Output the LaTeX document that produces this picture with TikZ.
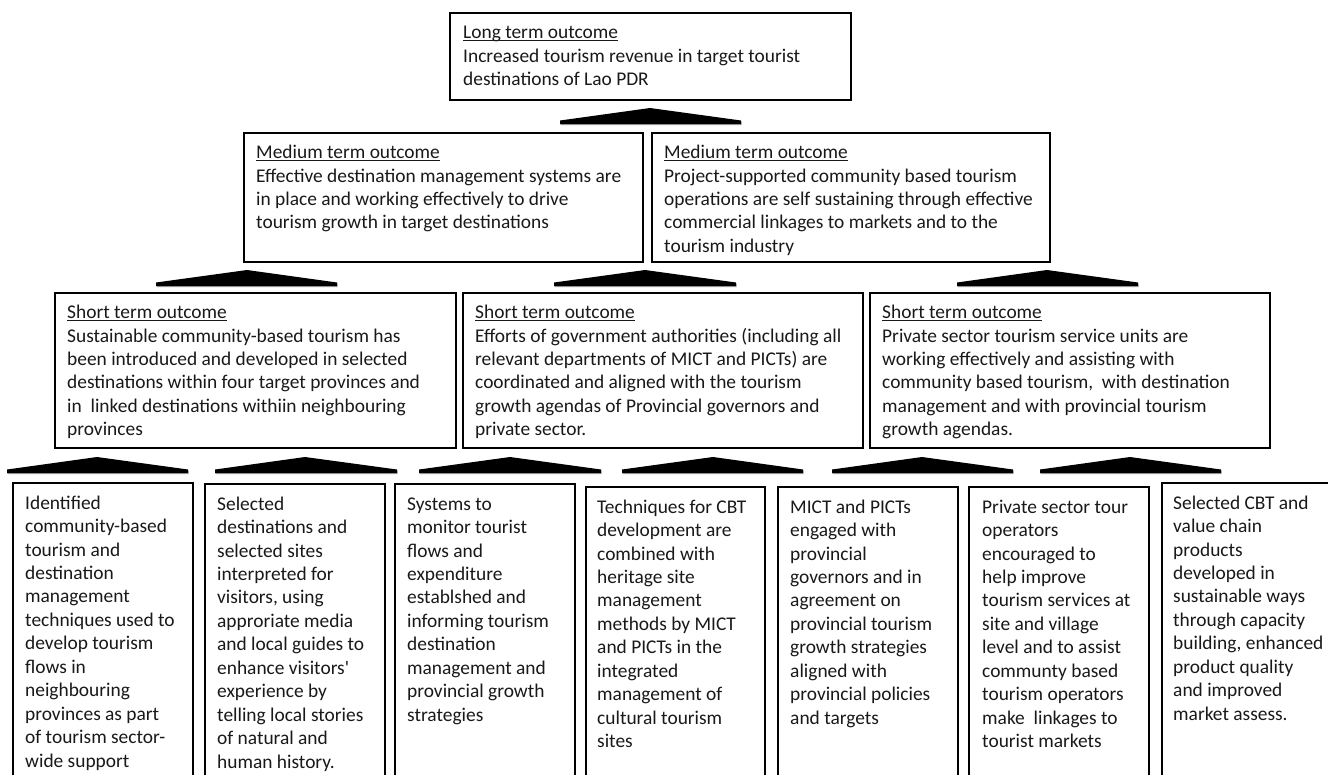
\documentclass[tikz,border=0pt]{standalone}
\usepackage{fontspec}
\setmainfont{Carlito}
\newfontfamily\plaincf{Carlito}
\newcommand\sq{{\plaincf\symbol{39}}}
\newcommand\hd[1]{\setbox0\hbox{#1}\rlap{\rule[-2.4pt]{\wd0}{1.3pt}}\box0}
\newcommand\tx[1]{\begin{tabular}[t]{@{}l@{}}#1\end{tabular}}
\newcommand\tri[5]{\fill[black!35] (#1+0.5,#5+1.2) -- (#1+0.5,#5-2.3) -- (#2,#4+1.2) -- (#3+0.5,#5-2.3) -- (#3+0.5,#5+1.2) -- cycle;
  \fill[black] (#1,#5) -- (#1,#5-3.5) -- (#2,#4) -- (#3,#5-3.5) -- (#3,#5) -- cycle;}
\tikzset{
  obox/.style={draw=black, line width=1.6pt, anchor=north west, inner sep=0pt},
  otext/.style={anchor=north west, inner sep=0pt, align=left, text=black!90, font=\fontsize{19.4}{23.45}\selectfont}
}
\begin{document}
\begin{tikzpicture}[x=1pt,y=-1pt]
\useasboundingbox (0,0) rectangle (1328,774);
\fill[white] (0,0) rectangle (1328,774);
\clip (0,0) rectangle (1328,774);

% boxes
\node[obox, minimum width=401, minimum height=87] (lt) at (449,12) {};
\node[obox, minimum width=399, minimum height=129] (ml) at (243,132) {};
\node[obox, minimum width=398, minimum height=129] (mr) at (651,132) {};
\node[obox, minimum width=401, minimum height=155] (sl) at (54,292) {};
\node[obox, minimum width=400, minimum height=155] (sm) at (462,292) {};
\node[obox, minimum width=400, minimum height=155] (sr) at (869,292) {};
\node[obox, minimum width=180, minimum height=330] (o1) at (12,482) {};
\node[obox, minimum width=180, minimum height=330] (o2) at (204,483) {};
\node[obox, minimum width=180, minimum height=330] (o3) at (394,483) {};
\node[obox, minimum width=179, minimum height=330] (o4) at (585,486) {};
\node[obox, minimum width=180, minimum height=330] (o5) at (777,486) {};
\node[obox, minimum width=180, minimum height=330] (o6) at (968,486) {};
\node[obox, minimum width=190, minimum height=330] (o7) at (1161,482) {};

% texts
\node[otext] (ltt) at ([shift={(14,10)}]lt.north west) {\tx{\hd{Long term outcome}\\Increased tourism revenue in target tourist\\destinations of Lao PDR}};
\node[otext] (mlt) at ([shift={(13,10)}]ml.north west) {\tx{\hd{Medium term outcome}\\Effective destination management systems are\\in place and working effectively to drive\\tourism growth in target destinations}};
\node[otext] (mrt) at ([shift={(13,10)}]mr.north west) {\tx{\hd{Medium term outcome}\\Project-supported community based tourism\\operations are self sustaining through effective\\commercial linkages to markets and to the\\tourism industry}};
\node[otext] (slt) at ([shift={(13,10)}]sl.north west) {\tx{\hd{Short term outcome}\\Sustainable community-based tourism has\\been introduced and developed in selected\\destinations within four target provinces and\\in\ \ linked destinations withiin neighbouring\\provinces}};
\node[otext] (smt) at ([shift={(13,10)}]sm.north west) {\tx{\hd{Short term outcome}\\Efforts of government authorities (including all\\relevant departments of MICT and PICTs) are\\coordinated and aligned with the tourism\\growth agendas of Provincial governors and\\private sector.}};
\node[otext] (srt) at ([shift={(13,10)}]sr.north west) {\tx{\hd{Short term outcome}\\Private sector tourism service units are\\working effectively and assisting with\\community based tourism,\ \ with destination\\management and with provincial tourism\\growth agendas.}};

\node[otext] (o1t) at ([shift={(13,10.5)}]o1.north west) {\tx{Identified\\community-based\\tourism and\\destination\\management\\techniques used to\\develop tourism\\flows in\\neighbouring\\provinces as part\\of tourism sector-\\wide support}};
\node[otext] (o2t) at ([shift={(13,10.5)}]o2.north west) {\tx{Selected\\destinations and\\selected sites\\interpreted for\\visitors, using\\approriate media\\and local guides to\\enhance visitors\sq\\experience by\\telling local stories\\of natural and\\human history.}};
\node[otext] (o3t) at ([shift={(13,10.5)}]o3.north west) {\tx{Systems to\\monitor tourist\\flows and\\expenditure\\establshed and\\informing tourism\\destination\\management and\\provincial growth\\strategies}};
\node[otext] (o4t) at ([shift={(12,10.5)}]o4.north west) {\tx{Techniques for CBT\\development are\\combined with\\heritage site\\management\\methods by MICT\\and PICTs in the\\integrated\\management of\\cultural tourism\\sites}};
\node[otext] (o5t) at ([shift={(13,10.5)}]o5.north west) {\tx{MICT and PICTs\\engaged with\\provincial\\governors and in\\agreement on\\provincial tourism\\growth strategies\\aligned with\\provincial policies\\and targets}};
\node[otext] (o6t) at ([shift={(14,10.5)}]o6.north west) {\tx{Private sector tour\\operators\\encouraged to\\help improve\\tourism services at\\site and village\\level and to assist\\communty based\\tourism operators\\make\ \ linkages to\\tourist markets}};
\node[otext] (o7t) at ([shift={(12,10.5)}]o7.north west) {\tx{Selected CBT and\\value chain\\products\\developed in\\sustainable ways\\through capacity\\building, enhanced\\product quality\\and improved\\market assess.}};

% triangles
\tri{560}{650}{741}{108}{124}
\tri{156}{247}{337}{270}{286}
\tri{554}{645}{736}{270}{286}
\tri{957}{1047}{1138}{270}{286}
\tri{7}{97}{188}{457}{473}
\tri{215}{305}{397}{457}{473}
\tri{419}{510}{601}{457}{473}
\tri{622}{713}{803}{457}{473}
\tri{832}{922}{1013}{457}{473}
\tri{1040}{1130}{1221}{457}{473}
\end{tikzpicture}
\end{document}
